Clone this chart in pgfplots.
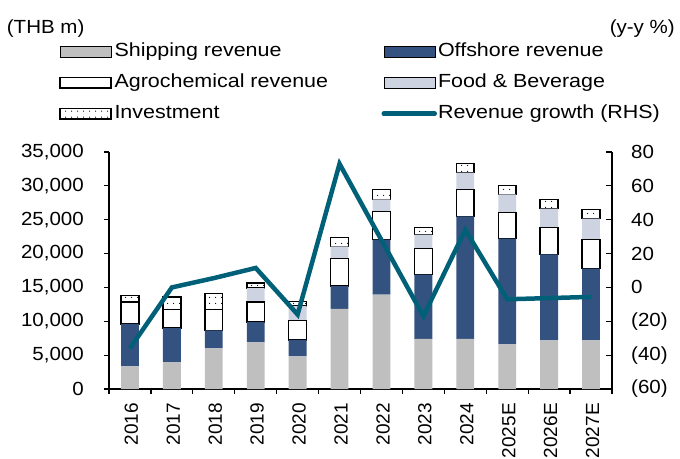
\documentclass[border=0pt]{standalone}
\usepackage{fontspec}
\setmainfont{Liberation Sans}[FakeStretch=1.08]
\newfontfamily\xfont{Liberation Sans}
\newfontfamily\legfont{Liberation Sans}[FakeStretch=1.13]
\usepackage{pgfplots}
\pgfplotsset{compat=1.18}
\usepackage{pgfplotstable}
\usetikzlibrary{patterns.meta}
\definecolor{ship}{RGB}{191,191,191}
\definecolor{offc}{RGB}{52,82,128}
\definecolor{fbc}{RGB}{205,211,224}
\definecolor{growth}{RGB}{0,96,120}
\pgfplotsset{
  barleg/.style={legend image code/.code={\draw[##1] (0bp,-5.3bp) rectangle (51bp,5.3bp);}},
  lineleg/.style={legend image code/.code={\draw[##1] (0bp,0bp) -- (51bp,0bp);}},
}

\pgfplotstableread{
x ship off agro fb inv g
0 3330 6300 3200 0 990 -36
1 3960 5030 2760 0 1820 0
2 5990 2660 3060 0 2410 5.5
3 6870 3000 3015 2010 740 11.5
4 4800 2470 2855 2115 690 -16
5 11850 3350 4040 1820 1280 73
6 13920 8130 4140 1820 1430 28
7 7420 9460 3840 2070 1040 -17
8 7420 18080 3940 2510 1330 34
9 6580 15620 3840 2710 1330 -7
10 7170 12710 3950 2800 1330 -6.3
11 7170 10600 4280 3100 1340 -5.6
}\data

\begin{document}
\fontsize{19bp}{22bp}\selectfont
\begin{tikzpicture}
\path[use as bounding box] (-109bp,-70bp) rectangle (571bp,389bp);
\begin{axis}[
  at={(0,0)}, anchor=south west,
  scale only axis, width=503bp, height=237bp,
  xmin=-0.5, xmax=11.5, ymin=0, ymax=35000,
  axis x line*=bottom, axis y line*=left,
  axis line style={-, line width=1.2bp, black},
  tick style={black, line width=1.2bp},
  tick align=outside, major tick length=5bp,
  ybar stacked, bar width=17.8bp,
  ytick={0,5000,10000,15000,20000,25000,30000,35000},
  scaled y ticks=false,
  yticklabel style={/pgf/number format/.cd, fixed, 1000 sep={,}, assume math mode=true, /tikz/.cd, anchor=east, inner sep=0pt, xshift=-20bp},
  xtick={-0.5,0.5,1.5,2.5,3.5,4.5,5.5,6.5,7.5,8.5,9.5,10.5,11.5},
  xticklabels={},
  extra x ticks={0,1,2,3,4,5,6,7,8,9,10,11},
  extra x tick labels={2016,2017,2018,2019,2020,2021,2022,2023,2024,2025E,2026E,2027E},
  extra x tick style={major tick length=0pt, xticklabel style={yshift=-14bp, xshift=1.5bp, rotate=90, anchor=east, inner sep=0pt, font=\xfont\fontsize{19bp}{22bp}\selectfont}},
  ylabel={(THB m)},
  every axis y label/.style={at={(axis description cs:-0.2034,1.5)}, anchor=base west, inner sep=0pt},
  legend columns=2,
  legend cell align=left,
  legend style={at={(axis description cs:-0.0994,1.46)}, anchor=north west, draw=none, fill=none, inner sep=0pt, outer sep=0pt, row sep=12.8bp,
    font=\legfont\fontsize{19bp}{22bp}\selectfont,
    /tikz/every even column/.append style={column sep=5bp},
    /tikz/every odd column/.append style={column sep=0pt},
    nodes={inner sep=0pt, text height=14bp, text depth=4bp}},
  barleg,
]
\addplot[fill=ship, draw=none] table[x=x,y=ship]{\data};
\addlegendentry{\hspace*{3bp}\makebox[262bp][l]{Shipping revenue}}
\addplot[fill=offc, draw=none] table[x=x,y=off]{\data};
\addlegendentry{\hspace*{1bp}Offshore revenue}
\addplot[fill=white, draw=black, line width=1.5bp] table[x=x,y=agro]{\data};
\addlegendentry{\hspace*{3bp}\makebox[262bp][l]{Agrochemical revenue}}
\addplot[fill=fbc, draw=none] table[x=x,y=fb]{\data};
\addlegendentry{\hspace*{1bp}Food \& Beverage}
\addplot[draw=black, line width=1.5bp, pattern={Dots[distance=6bp,radius=0.7bp]}, pattern color=black] table[x=x,y=inv]{\data};
\addlegendentry{\hspace*{3bp}\makebox[262bp][l]{Investment}}
\addlegendimage{growth, line width=4.5bp, line cap=round, lineleg}
\addlegendentry{\hspace*{1bp}Revenue growth (RHS)}
\end{axis}
\begin{axis}[
  at={(0,0)}, anchor=south west,
  scale only axis, width=503bp, height=237bp,
  xmin=-0.5, xmax=11.5, ymin=-60, ymax=80,
  axis y line*=right, axis x line=none,
  axis line style={-, line width=1.2bp, black},
  tick style={black, line width=1.2bp},
  tick align=inside, major tick length=6bp,
  ytick={-60,-40,-20,0,20,40,60,80},
  yticklabels={(60),(40),(20),0,20,40,60,80},
  yticklabel style={anchor=west, inner sep=0pt, xshift=19bp},
  ylabel={(y-y \%)},
  every axis y label/.style={at={(axis description cs:1.1252,1.5)}, anchor=base east, inner sep=0pt},
  clip=false,
]
\addplot[growth, line width=4.5bp, line join=miter, mark=none] table[x=x,y=g]{\data};
\end{axis}
\end{tikzpicture}
\end{document}
